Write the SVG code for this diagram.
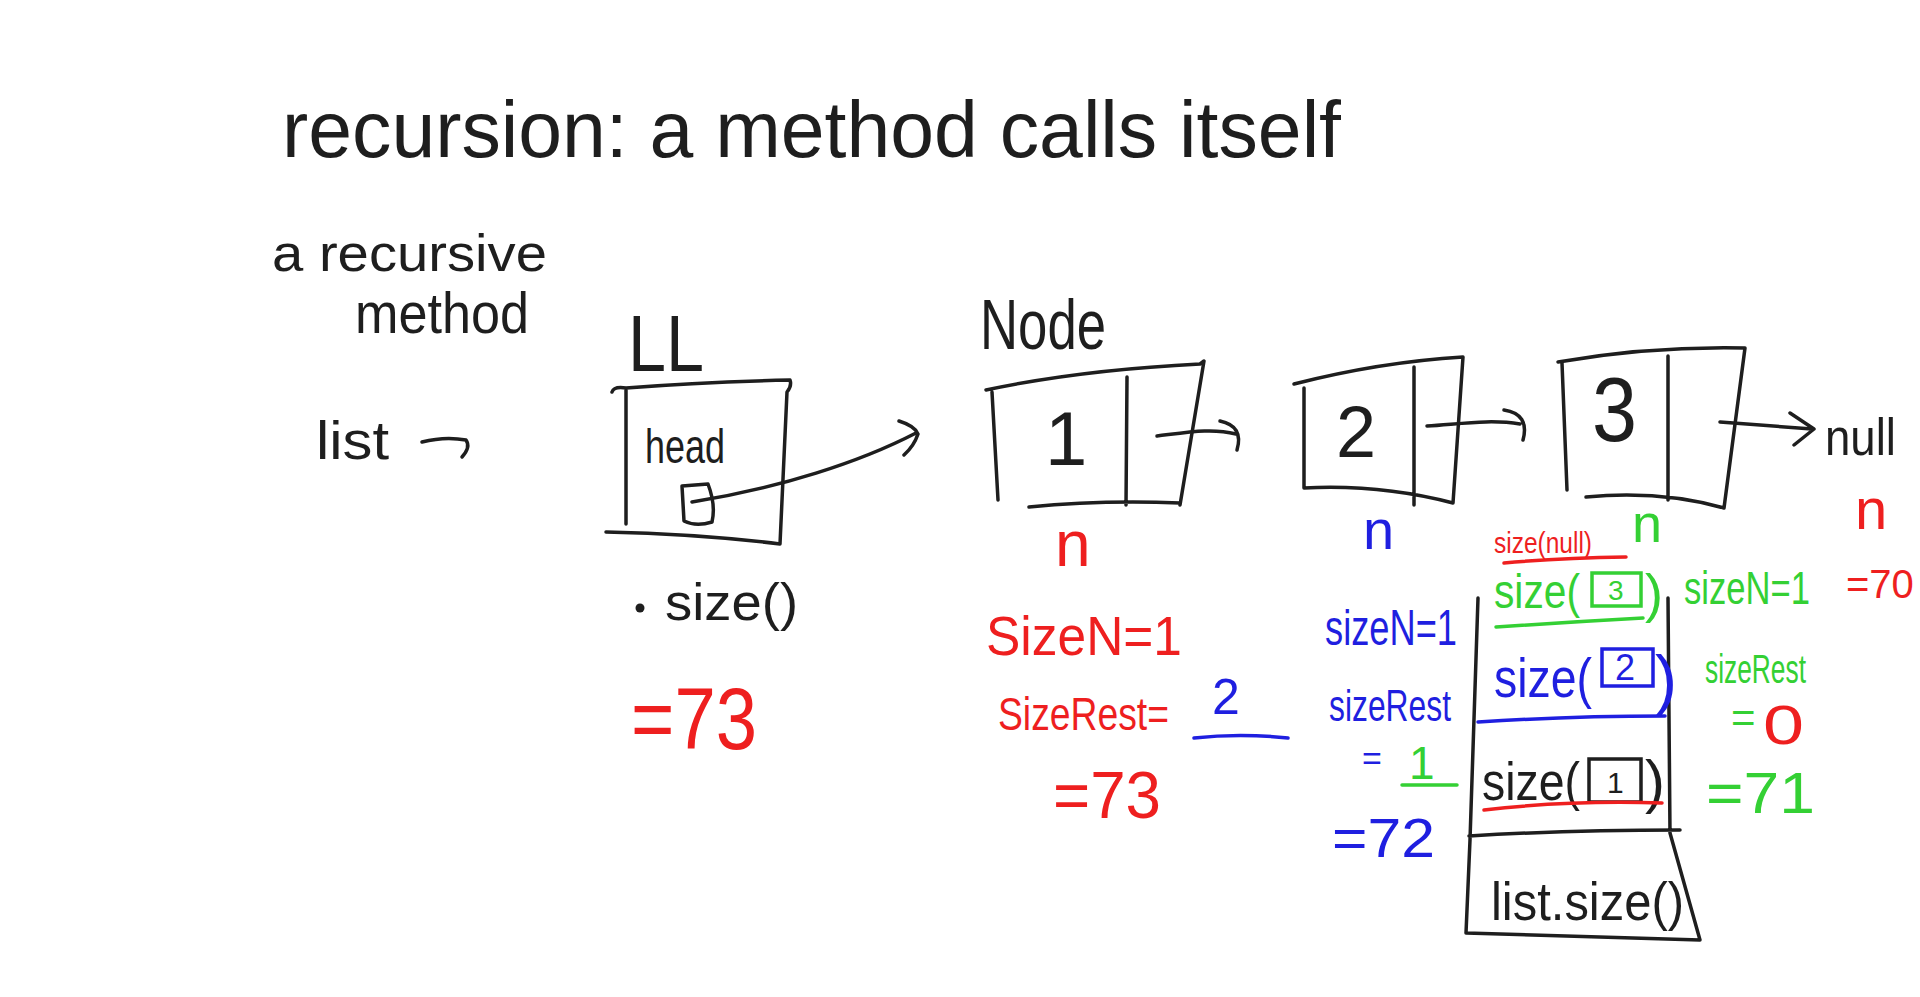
<svg xmlns="http://www.w3.org/2000/svg" width="1920" height="997" viewBox="0 0 1920 997">
<style>
.bg{fill:#ffffff}
.k{fill:none;stroke:#1e1e1e;stroke-width:3.5;stroke-linecap:round;stroke-linejoin:round}
.rs{fill:none;stroke:#ee1f1f;stroke-width:3.5;stroke-linecap:round}
.bs{fill:none;stroke:#1f1fe0;stroke-width:3.5;stroke-linecap:round}
.gs{fill:none;stroke:#34d034;stroke-width:3.5;stroke-linecap:round}
text{font-family:"Liberation Sans",Arial,sans-serif}
.t{fill:#1e1e1e}
.r{fill:#ee1f1f}
.b{fill:#1f1fe0}
.g{fill:#34d034}
</style>
<rect class="bg" x="0" y="0" width="1920" height="997"/>

<g id="title">
<text class="t" x="282" y="157" font-size="80" textLength="1059" lengthAdjust="spacingAndGlyphs">recursion: a method calls itself</text>
</g>

<g id="subtitle">
<text class="t" x="272" y="271" font-size="52" textLength="275" lengthAdjust="spacingAndGlyphs">a recursive</text>
<text class="t" x="355" y="333" font-size="58" textLength="174" lengthAdjust="spacingAndGlyphs">method</text>
</g>

<g id="list-var">
<text class="t" x="316" y="459" font-size="54" textLength="73" lengthAdjust="spacingAndGlyphs">list</text>
</g>

<g id="ll-object">
<text class="t" x="628" y="371" font-size="80" textLength="76" lengthAdjust="spacingAndGlyphs">LL</text>
<path class="k" d="M612,392 Q614,386 626,388 Q700,382 790,380 Q792,386 787,392 L780,544 Q700,534 606,532 M626,390 L626,524"/>
<text class="t" x="645" y="463" font-size="48" textLength="80" lengthAdjust="spacingAndGlyphs">head</text>
<path class="k" d="M682,486 L708,484 Q716,505 712,522 Q696,527 684,521 L682,486"/>
<circle cx="640" cy="608" r="4.5" fill="#1e1e1e"/>
<text class="t" x="665" y="620" font-size="52" textLength="133" lengthAdjust="spacingAndGlyphs">size()</text>
<text class="r" x="631" y="749" font-size="88" textLength="126" lengthAdjust="spacingAndGlyphs">=73</text>
</g>

<g id="node1">
<text class="t" x="980" y="349" font-size="70" textLength="126" lengthAdjust="spacingAndGlyphs">Node</text>
<path class="k" d="M986,390 Q1080,370 1200,364 L1204,361 L1180,505 M992,392 L998,500 M1029,507 Q1100,500 1180,503 M1127,377 L1126,505"/>
<text class="t" x="1045" y="465" font-size="76">1</text>
<text class="r" x="1055" y="566" font-size="64">n</text>
</g>

<g id="node2">
<path class="k" d="M1294,384 Q1380,362 1463,357 L1453,503 Q1380,484 1304,488 M1304,388 L1304,488 M1414,367 L1414,505"/>
<text class="t" x="1336" y="457" font-size="72">2</text>
<text class="b" x="1363" y="549" font-size="56">n</text>
</g>

<g id="node3">
<path class="k" d="M1558,362 Q1650,346 1745,348 L1724,508 Q1660,490 1586,497 M1562,363 L1567,490 M1668,356 L1668,500"/>
<text class="t" x="1592" y="441" font-size="90" textLength="45" lengthAdjust="spacingAndGlyphs">3</text>
<text class="g" x="1632" y="542" font-size="54">n</text>
</g>

<g id="null-node">
<text class="t" x="1825" y="455" font-size="52" textLength="71" lengthAdjust="spacingAndGlyphs">null</text>
<text class="r" x="1855" y="529" font-size="58">n</text>
<text class="r" x="1846" y="598" font-size="40">=70</text>
</g>

<g id="connectors">
<path class="k" d="M422,442 Q445,436 466,440 Q471,447 462,457"/>
<path class="k" d="M692,502 C780,488 860,462 916,433 M899,421 Q915,426 918,434 Q914,446 904,455"/>
<path class="k" d="M1157,436 C1190,432 1212,428 1236,434 M1220,421 Q1244,426 1237,450"/>
<path class="k" d="M1427,426 C1460,424 1490,419 1520,424 M1504,410 Q1530,414 1523,440"/>
<path class="k" d="M1720,422 L1812,429 M1790,413 L1814,429 L1794,445"/>
</g>

<g id="node1-calc">
<text class="r" x="986" y="655" font-size="56" textLength="196" lengthAdjust="spacingAndGlyphs">SizeN=1</text>
<text class="r" x="998" y="730" font-size="46" textLength="171" lengthAdjust="spacingAndGlyphs">SizeRest=</text>
<text class="b" x="1212" y="714" font-size="50">2</text>
<path class="bs" d="M1194,738 Q1240,733 1288,738"/>
<text class="r" x="1053" y="818" font-size="66" textLength="108" lengthAdjust="spacingAndGlyphs">=73</text>
</g>

<g id="node2-calc">
<text class="b" x="1325" y="645" font-size="50" textLength="132" lengthAdjust="spacingAndGlyphs">sizeN=1</text>
<text class="b" x="1329" y="721" font-size="44" textLength="122" lengthAdjust="spacingAndGlyphs">sizeRest</text>
<text class="b" x="1362" y="770" font-size="34">=</text>
<text class="g" x="1409" y="779" font-size="46">1</text>
<path class="gs" d="M1402,785 L1457,785"/>
<text class="b" x="1332" y="857" font-size="56" textLength="103" lengthAdjust="spacingAndGlyphs">=72</text>
</g>

<g id="node3-calc">
<text class="g" x="1684" y="604" font-size="46" textLength="126" lengthAdjust="spacingAndGlyphs">sizeN=1</text>
<text class="g" x="1705" y="683" font-size="40" textLength="101" lengthAdjust="spacingAndGlyphs">sizeRest</text>
<text class="g" x="1731" y="732" font-size="42">=</text>
<text class="r" x="1763" y="744" font-size="56" textLength="41" lengthAdjust="spacingAndGlyphs">0</text>
<text class="g" x="1706" y="813" font-size="58" textLength="109" lengthAdjust="spacingAndGlyphs">=71</text>
</g>

<g id="call-stack">
<path class="k" d="M1478,598 L1470,840 L1466,933 L1700,940 L1670,833 L1668,598 M1469,836 Q1570,830 1680,830"/>
<text class="r" x="1494" y="553" font-size="30" textLength="98" lengthAdjust="spacingAndGlyphs">size(null)</text>
<path class="rs" d="M1504,563 Q1560,558 1626,557"/>
<text class="g" x="1494" y="608" font-size="48" textLength="86" lengthAdjust="spacingAndGlyphs">size(</text>
<rect x="1592" y="573" width="49" height="33" fill="none" stroke="#34d034" stroke-width="3.5"/>
<text class="g" x="1608" y="600" font-size="28">3</text>
<text class="g" x="1645" y="612" font-size="54">)</text>
<path class="gs" d="M1496,627 Q1570,622 1643,618"/>
<text class="b" x="1494" y="697" font-size="56" textLength="98" lengthAdjust="spacingAndGlyphs">size(</text>
<rect x="1602" y="649" width="51" height="37" fill="none" stroke="#1f1fe0" stroke-width="3.5"/>
<text class="b" x="1615" y="680" font-size="36">2</text>
<text class="b" x="1655" y="702" font-size="66">)</text>
<path class="bs" d="M1478,722 Q1570,716 1665,716"/>
<text class="t" x="1482" y="800" font-size="54" textLength="98" lengthAdjust="spacingAndGlyphs">size(</text>
<rect x="1589" y="759" width="52" height="43" fill="none" stroke="#1e1e1e" stroke-width="3.5"/>
<text class="t" x="1607" y="793" font-size="30">1</text>
<text class="t" x="1645" y="802" font-size="60">)</text>
<path class="rs" d="M1484,810 Q1570,800 1662,803"/>
<text class="t" x="1491" y="920" font-size="54" textLength="193" lengthAdjust="spacingAndGlyphs">list.size()</text>
</g>
</svg>
